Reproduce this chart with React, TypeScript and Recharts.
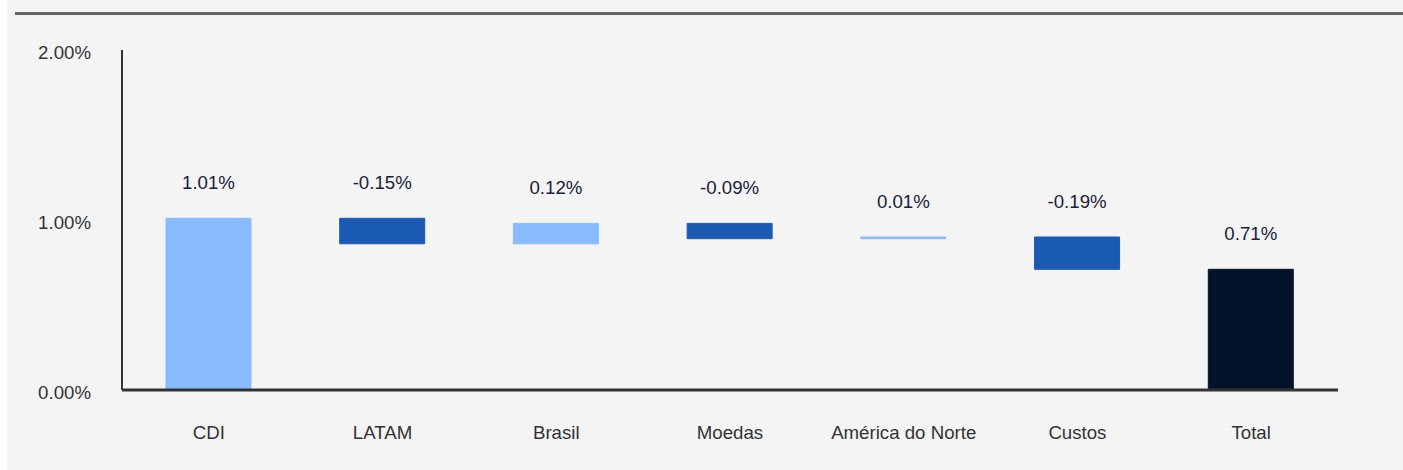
import React from 'react';
import { BarChart, Bar, XAxis, YAxis, Cell, LabelList } from 'recharts';

// waterfall data
const categories = ['CDI', 'LATAM', 'Brasil', 'Moedas', 'América do Norte', 'Custos', 'Total'];
const changes = [1.01, -0.15, 0.12, -0.09, 0.01, -0.19, 0.71];
const totals = [false, false, false, false, false, false, true];
const yTicks = [0, 1, 2];

const LIGHT = '#88bbff';
const DARK = '#1a5ab3';
const NAVY = '#04132a';
const FONT = '"Liberation Sans", Arial, sans-serif';

let running = 0;
const rows = categories.map((name, i) => {
  const v = changes[i];
  if (totals[i]) {
    return { name, base: 0, size: v, delta: v };
  }
  const start = running;
  running += v;
  return { name, base: Math.min(start, running), size: Math.abs(v), delta: v };
});

const fmt = (v: number) => `${v.toFixed(2)}%`;

const ValueLabel = (props: any) => {
  const { x, y, width, index } = props;
  return (
    <text
      x={x + width / 2}
      y={y - 29}
      textAnchor="middle"
      fill="#18213a"
      fontSize={18.67}
      fontFamily={FONT}
    >
      {fmt(rows[index].delta)}
    </text>
  );
};

export default function App() {
  return (
    <div
      style={{
        position: 'fixed',
        left: 7,
        top: 0,
        width: 1396,
        height: 470,
        background: '#f4f4f4',
        fontFamily: FONT,
      }}
    >
      <div style={{ position: 'absolute', left: 8, top: 12, width: 1388, height: 3, background: '#666666' }} />
      <BarChart
        width={1396}
        height={470}
        data={rows}
        barSize={85}
        margin={{ top: 50, right: 65, bottom: 0, left: 0 }}
      >
        <XAxis
          dataKey="name"
          height={80}
          stroke="#333333"
          strokeWidth={3}
          tickLine={false}
          tickSize={0}
          tickMargin={36}
          tick={{ fill: '#333333', fontSize: 18.67, fontFamily: FONT }}
        />
        <YAxis
          width={115}
          domain={[0, 2]}
          ticks={yTicks}
          stroke="#333333"
          strokeWidth={2}
          tickLine={false}
          tickSize={0}
          tickMargin={31}
          tickFormatter={fmt}
          tick={{ fill: '#333333', fontSize: 18.67, fontFamily: FONT, dy: 2 }}
        />
        <Bar dataKey="base" stackId="w" fill="transparent" isAnimationActive={false} />
        <Bar dataKey="size" stackId="w" isAnimationActive={false}>
          {rows.map((r, i) => {
            const c = totals[i] ? NAVY : r.delta < 0 ? DARK : LIGHT;
            return <Cell key={`c-${i}`} fill={c} stroke={c} strokeWidth={1} />;
          })}
          <LabelList dataKey="size" content={ValueLabel} />
        </Bar>
      </BarChart>
    </div>
  );
}
